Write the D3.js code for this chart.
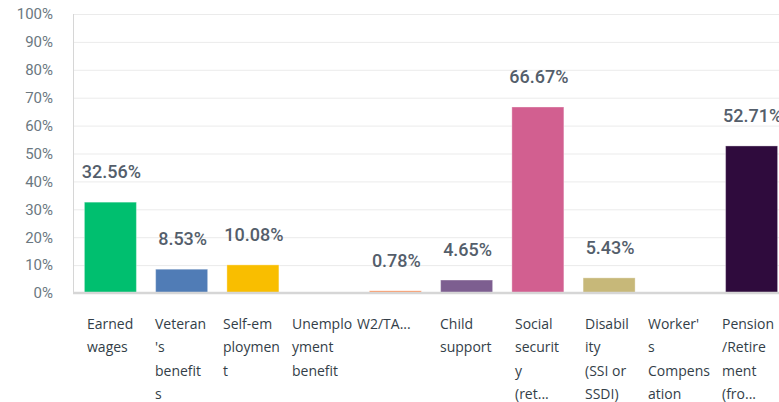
<!DOCTYPE html>
<html><head><meta charset="utf-8">
<script src="https://cdn.jsdelivr.net/npm/d3@7"></script>
<style>
html,body{margin:0;padding:0;background:#fff;overflow:hidden;}
svg{display:block;}
</style></head>
<body>
<script>
const categories = ["Earned wages","Veteran's benefits","Self-employment","Unemployment benefit","W2/TANF","Child support","Social security (retirement)","Disability (SSI or SSDI)","Worker's Compensation","Pension/Retirement (from employer)"];
const labelLines = [
  ["Earned","wages"],
  ["Veteran","'s","benefit","s"],
  ["Self-em","ploymen","t"],
  ["Unemplo","yment","benefit"],
  ["W2/TA..."],
  ["Child","support"],
  ["Social","securit","y","(ret..."],
  ["Disabil","ity","(SSI or","SSDI)"],
  ["Worker'","s","Compens","ation"],
  ["Pension","/Retire","ment","(fro..."]
];
const values = [32.56, 8.53, 10.08, 0, 0.78, 4.65, 66.67, 5.43, 0, 52.71];
const colors = ["#00BF6F","#507CB6","#F9BE00","#6BC8CD","#FF8B4F","#7D5E90","#D25F90","#C7B879","#EB6F6F","#2F0B3D"];
const yTicks = [0,10,20,30,40,50,60,70,80,90,100];

const W = 779, H = 402;
const svg = d3.select("body").append("svg").attr("width", W).attr("height", H);

const x = d3.scaleBand().domain(d3.range(categories.length)).range([73, 789]).paddingInner(0.27).paddingOuter(0.16);
const y = d3.scaleLinear().domain([0, 100]).range([293, 14]);

// gridlines
svg.append("g").selectAll("line").data(yTicks.filter(t => t > 0)).join("line")
  .attr("x1", 73).attr("x2", W).attr("y1", d => y(d) + 0.5).attr("y2", d => y(d) + 0.5)
  .attr("stroke", "#ebebeb").attr("stroke-width", 1);

// y axis
const yAxis = d3.axisLeft(y).tickValues(yTicks).tickFormat(d => d + "%").tickSize(0).tickPadding(20);
const ya = svg.append("g").attr("transform", "translate(73,0)").call(yAxis);
ya.select(".domain").remove();
ya.selectAll("text").attr("font-family", "Roboto, sans-serif").attr("font-size", 15).attr("fill", "#6b787f");
svg.append("line").attr("x1", 73.5).attr("x2", 73.5).attr("y1", 14).attr("y2", 294)
  .attr("stroke", "#d6d6d6").attr("stroke-width", 1);

// bars
svg.append("g").selectAll("rect").data(values).join("rect")
  .attr("x", (d, i) => x(i)).attr("width", x.bandwidth())
  .attr("y", d => y(d)).attr("height", d => y(0) - y(d))
  .attr("fill", (d, i) => colors[i])
  .attr("stroke", "rgba(255,255,255,0.35)").attr("stroke-width", 1);

// baseline
svg.append("line").attr("x1", 73).attr("x2", W).attr("y1", 293).attr("y2", 293)
  .attr("stroke", "#d6d6d6").attr("stroke-width", 2.5);

// value labels
svg.append("g").selectAll("text").data(values).join("text")
  .attr("x", (d, i) => x(i) + x.bandwidth() / 2 + 1)
  .attr("y", d => y(d) - 24)
  .attr("text-anchor", "middle")
  .attr("font-family", "Roboto, sans-serif").attr("font-size", 18).attr("font-weight", 500)
  .attr("fill", "#545e6b")
  .text(d => d > 0 ? d.toFixed(2) + "%" : "");

// category labels
const lblX = [87, 155, 223, 292, 357, 440, 515, 585, 648, 722];
const lg = svg.append("g");
labelLines.forEach((lines, i) => {
  const t = lg.append("text")
    .attr("font-family", "'Open Sans', sans-serif").attr("font-size", 14)
    .attr("fill", "#333e48")
    .attr("transform", `translate(${lblX[i]},0)`);
  lines.forEach((ln, j) => {
    t.append("tspan").attr("x", 0).attr("y", 328.5 + j * 23.5).text(ln);
  });
});
</script>
</body></html>
